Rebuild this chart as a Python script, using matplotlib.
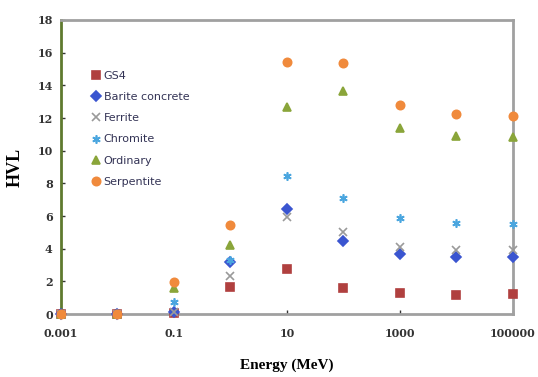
import matplotlib
matplotlib.use("Agg")
import matplotlib.pyplot as plt

# photon energy (MeV) and HVL values for each shielding material
energy = [0.001, 0.01, 0.1, 1, 10, 100, 1000, 10000, 100000]
gs4 = [0, 0, 0.05, 1.65, 2.75, 1.6, 1.28, 1.18, 1.2]
barite = [0, 0, 0.15, 3.2, 6.45, 4.45, 3.65, 3.5, 3.5]
ferrite = [0, 0, 0.1, 2.35, 5.95, 5.05, 4.1, 3.95, 3.9]
chromite = [0, 0, 0.75, 3.3, 8.45, 7.1, 5.85, 5.6, 5.5]
ordinary = [0, 0, 1.6, 4.25, 12.65, 13.65, 11.4, 10.9, 10.85]
serpentite = [0, 0, 1.95, 5.45, 15.45, 15.35, 12.8, 12.25, 12.15]

xticks = [0.001, 0.1, 10, 1000, 100000]
xtick_labels = ["0.001", "0.1", "10", "1000", "100000"]

fig = plt.figure(figsize=(5.38, 3.77), dpi=100)
ax = fig.add_axes([0.1134, 0.167, 0.84, 0.78])

series = [
    ("GS4", gs4, "s", "#b0403f", 6),
    ("Barite concrete", barite, "D", "#3a55d0", 5),
    ("Ferrite", ferrite, "x", "#9a9a9a", 6),
    ("Chromite", chromite, (6, 2, 0), "#4aa6df", 6),
    ("Ordinary", ordinary, "^", "#8aa53a", 6),
    ("Serpentite", serpentite, "o", "#f08a3c", 6),
]
for name, vals, m, c, ms in series:
    ax.plot(energy, vals, linestyle="none", marker=m, color=c, markersize=ms,
            markeredgewidth=1.2, label=name, clip_on=False, zorder=3)

ax.set_xscale("log")
ax.set_xlim(0.001, 100000)
ax.set_ylim(0, 18)
ax.set_xticks(xticks)
ax.set_xticklabels(xtick_labels)
ax.minorticks_off()
ax.set_yticks(range(0, 19, 2))

tick_font = {"family": "DejaVu Serif", "size": 8, "weight": "bold"}
for lab in ax.get_xticklabels() + ax.get_yticklabels():
    lab.set_fontproperties(matplotlib.font_manager.FontProperties(**tick_font))
    lab.set_color("#2a2a50")
ax.tick_params(direction="in", length=3, width=1, colors="#333333", pad=6)
ax.tick_params(axis="x", pad=10)

ax.spines["left"].set_color("#5f7a2f")
ax.spines["left"].set_linewidth(2)
for s in ["top", "right", "bottom"]:
    ax.spines[s].set_color("#a0a0a0")
    ax.spines[s].set_linewidth(2)

ax.set_xlabel("Energy (MeV)", family="Liberation Serif", fontsize=11,
              fontweight="bold", labelpad=14)
ax.set_ylabel("HVL", family="Liberation Serif", fontsize=13,
              fontweight="bold", labelpad=10)

leg = ax.legend(loc="upper left", bbox_to_anchor=(0.04, 0.86), frameon=False,
                handletextpad=0.1, labelspacing=1.0, handlelength=1.2,
                prop={"family": "DejaVu Sans", "size": 8})
for t in leg.get_texts():
    t.set_color("#333355")

fig.savefig("out.png", dpi=100)
